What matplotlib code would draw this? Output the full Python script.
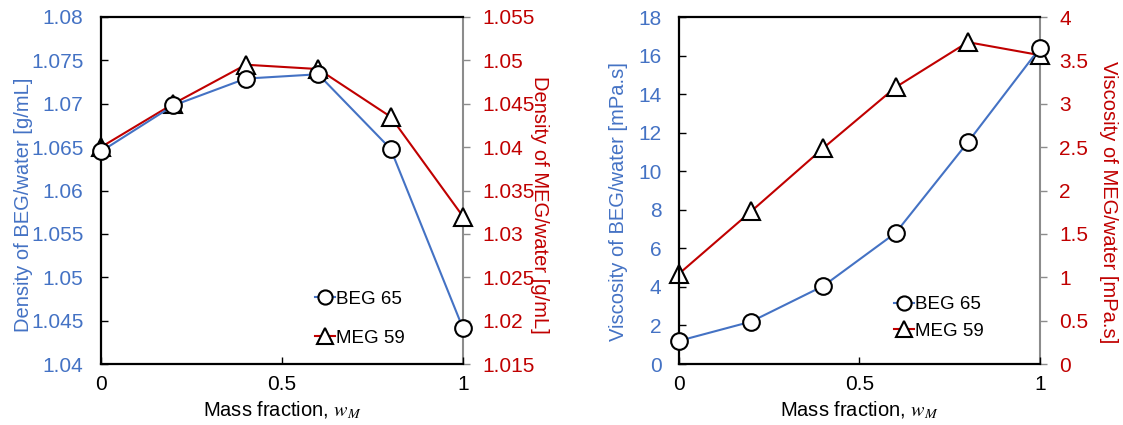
import matplotlib
matplotlib.use("Agg")
import matplotlib.pyplot as plt

plt.rcParams['font.family'] = ['Liberation Sans', 'DejaVu Sans']
plt.rcParams['mathtext.fontset'] = 'stix'

# Data
x_frac = [0.0, 0.2, 0.4, 0.6, 0.8, 1.0]
density_beg = [1.0645, 1.0698, 1.0729, 1.0734, 1.0648, 1.0441]
density_meg = [1.0400, 1.0450, 1.0495, 1.0490, 1.0435, 1.0320]
visc_beg = [1.2, 2.2, 4.05, 6.8, 11.5, 16.4]
visc_meg = [1.04, 1.76, 2.49, 3.19, 3.71, 3.56]

x_ticks = [0, 0.5, 1]
x_ticklabels = ['0', '0.5', '1']
dens_left_ticks = [1.04, 1.045, 1.05, 1.055, 1.06, 1.065, 1.07, 1.075, 1.08]
dens_left_labels = ['1.04', '1.045', '1.05', '1.055', '1.06', '1.065', '1.07', '1.075', '1.08']
dens_right_ticks = [1.015, 1.02, 1.025, 1.03, 1.035, 1.04, 1.045, 1.05, 1.055]
dens_right_labels = ['1.015', '1.02', '1.025', '1.03', '1.035', '1.04', '1.045', '1.05', '1.055']
visc_left_ticks = [0, 2, 4, 6, 8, 10, 12, 14, 16, 18]
visc_left_labels = ['0', '2', '4', '6', '8', '10', '12', '14', '16', '18']
visc_right_ticks = [0, 0.5, 1, 1.5, 2, 2.5, 3, 3.5, 4]
visc_right_labels = ['0', '0.5', '1', '1.5', '2', '2.5', '3', '3.5', '4']

BLUE = '#4472C4'
RED = '#C00000'
GRAY = '#8C8C8C'
FS_TICK = 15
FS_LAB = 14.5
FS_LEG = 13.5

fig = plt.figure(figsize=(11.23, 4.25), dpi=100)


def make_panel(rect, yl, yr, yl_ticks, yl_labels, yr_ticks, yr_labels, ylim_l, ylim_r,
               lab_l, lab_r, lab_l_x, lab_r_x, lab_y, leg_anchor, leg_spacing):
    ax = fig.add_axes(rect)
    ax2 = ax.twinx()
    ax.set_zorder(ax2.get_zorder() + 1)
    ax.patch.set_visible(False)

    l2, = ax2.plot(x_frac, yr, color=RED, lw=1.5, marker='^', ms=13,
                   mfc='white', mec='black', mew=1.5, label='MEG 59', zorder=3,
                   clip_on=False)
    l1, = ax.plot(x_frac, yl, color=BLUE, lw=1.5, marker='o', ms=12,
                  mfc='white', mec='black', mew=1.5, label='BEG 65', zorder=3,
                  clip_on=False)
    ax.set_xlim(0, 1)
    ax.set_ylim(*ylim_l)
    ax2.set_ylim(*ylim_r)
    ax.set_xticks(x_ticks)
    ax.set_xticklabels(x_ticklabels)
    ax.set_yticks(yl_ticks)
    ax.set_yticklabels(yl_labels)
    ax2.set_yticks(yr_ticks)
    ax2.set_yticklabels(yr_labels)

    for s in ['left', 'top', 'bottom']:
        ax.spines[s].set_linewidth(1.6)
        ax.spines[s].set_color('black')
        ax2.spines[s].set_visible(False)
    ax.spines['right'].set_visible(False)
    ax2.spines['right'].set_color(GRAY)
    ax2.spines['right'].set_linewidth(1.5)

    ax.tick_params(axis='y', direction='in', length=5, width=1, color='black',
                   labelcolor=BLUE, labelsize=FS_TICK, pad=12.5)
    ax.tick_params(axis='x', direction='in', length=5, width=1, color='black',
                   labelcolor='black', labelsize=FS_TICK, pad=8)
    ax2.tick_params(axis='y', direction='out', length=5, width=1, color=GRAY,
                    labelcolor=RED, labelsize=FS_TICK, pad=9)

    ax.set_xlabel(r'Mass fraction, $w_M$', fontsize=FS_LAB, labelpad=4)
    ax.set_ylabel(lab_l, color=BLUE, fontsize=FS_LAB)
    ax.yaxis.set_label_coords(lab_l_x, lab_y)
    ax2.set_ylabel(lab_r, color=RED, fontsize=FS_LAB, rotation=270, va='bottom')
    ax2.yaxis.set_label_coords(lab_r_x, lab_y)

    ax.legend([l1, l2], ['BEG 65', 'MEG 59'], loc='lower left', bbox_to_anchor=leg_anchor,
              frameon=False, fontsize=FS_LEG, handlelength=1.1, handletextpad=0.05,
              labelspacing=leg_spacing, borderpad=0, borderaxespad=0, markerscale=0.85)
    return ax, ax2


make_panel([0.0899, 0.1435, 0.3224, 0.8165], density_beg, density_meg,
           dens_left_ticks, dens_left_labels, dens_right_ticks, dens_right_labels,
           (1.04, 1.08), (1.015, 1.055),
           'Density of BEG/water [g/mL]', 'Density of MEG/water [g/mL]',
           -0.188, 1.185, 0.458,
           (0.59, 0.05), 1.15)

make_panel([0.6046, 0.1435, 0.3215, 0.8165], visc_beg, visc_meg,
           visc_left_ticks, visc_left_labels, visc_right_ticks, visc_right_labels,
           (0, 18), (0, 4),
           'Viscosity of BEG/water [mPa.s]', 'Viscosity of MEG/water [mPa.s]',
           -0.141, 1.163, 0.467,
           (0.595, 0.07), 0.5)

fig.savefig('out.png', dpi=100)
